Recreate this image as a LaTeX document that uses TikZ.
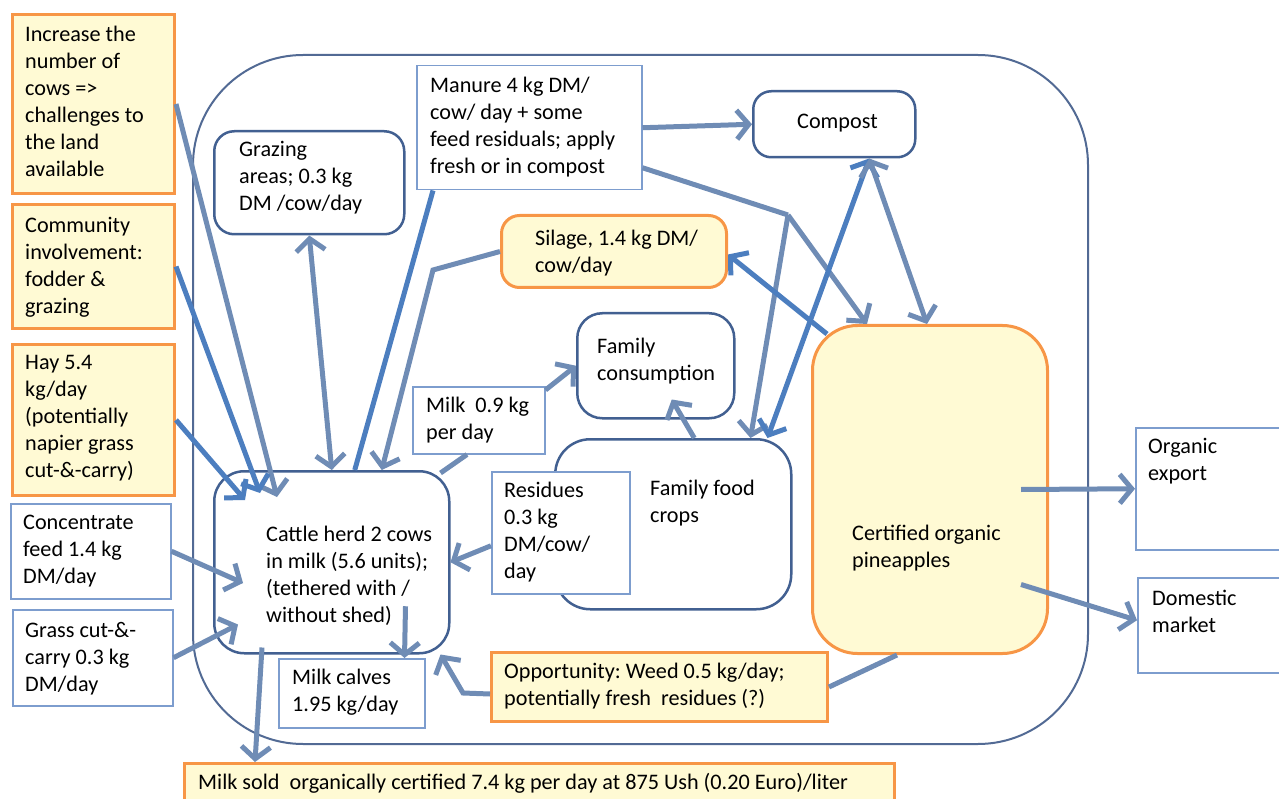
\documentclass[tikz,border=0pt]{standalone}
\usepackage{fontspec}
\setmainfont{Carlito}
\usepackage{tikz}
\usetikzlibrary{arrows.meta,positioning}
\frenchspacing

\definecolor{framecol}{RGB}{82,106,148}
\definecolor{roundcol}{RGB}{66,96,145}
\definecolor{rectcol}{RGB}{125,157,206}
\definecolor{orangecol}{RGB}{247,150,70}
\definecolor{notefill}{RGB}{255,250,212}
\definecolor{arrgray}{RGB}{111,140,181}
\definecolor{arrblue}{RGB}{76,126,191}

\begin{document}
\begin{tikzpicture}[
  x=1pt, y=-1pt,
  txt/.style={inner sep=0pt, anchor=west, align=left, font=\fontsize{22.2}{27}\selectfont},
  rbox/.style={draw=roundcol, line width=2.5pt, fill=white, rounded corners=#1, anchor=north west, inner sep=0pt},
  rbox/.default=20pt,
  sbox/.style={draw=rectcol, line width=1.5pt, fill=white, anchor=north west, inner sep=0pt},
  nbox/.style={draw=orangecol, line width=3pt, fill=notefill, anchor=north west, inner sep=0pt},
  ln/.style={draw=arrgray, line width=5pt},
  lnb/.style={ln, draw=arrblue},
  arr/.style={ln, -{Straight Barb[length=12pt,width=29pt]}},
  arrb/.style={arr, draw=arrblue},
  darr/.style={ln, {Straight Barb[length=12pt,width=29pt]}-{Straight Barb[length=12pt,width=29pt]}},
  darrb/.style={darr, draw=arrblue}
]
  \useasboundingbox (0,0) rectangle (1279,799);

  % farm boundary
  \draw[framecol, line width=2pt, rounded corners=110pt] (193,55) rectangle (1088,744);

  % inputs and ideas on the left
  \node[nbox, minimum width=162pt, minimum height=179pt] (inc) at (11,13) {};
  \node[txt] (inc-t) at (25,101) {Increase the\\number of\\cows =>\\challenges to\\the land\\available};
  \node[nbox, minimum width=162pt, minimum height=124pt] (comm) at (11,203) {};
  \node[txt] (comm-t) at (25,267) {Community\\involvement:\\fodder \&\\grazing};
  \node[nbox, minimum width=162pt, minimum height=151pt] (hay) at (11,343) {};
  \node[txt] (hay-t) at (25,418) {Hay 5.4\\kg/day\\(potentially\\napier grass\\cut-\&-carry)};
  \node[sbox, minimum width=160pt, minimum height=95pt] (conc) at (10,503) {};
  \node[txt] (conc-t) at (23,551) {Concentrate\\feed 1.4 kg\\DM/day};
  \node[sbox, minimum width=160pt, minimum height=96pt] (grass) at (12,609) {};
  \node[txt] (grass-t) at (25,659) {Grass cut-\&-\\carry 0.3 kg\\DM/day};

  % farm components
  \node[rbox=20pt, minimum width=190pt, minimum height=103pt] (graz) at (213,130) {};
  \node[txt] (graz-t) at (239,178) {Grazing\\areas; 0.3 kg\\DM /cow/day};
  \node[sbox, minimum width=225pt, minimum height=124pt] (manure) at (416,65) {};
  \node[txt] (manure-t) at (430,127) {Manure 4 kg DM/\\cow/ day + some\\feed residuals; apply\\fresh or in compost};
  \node[rbox=18pt, minimum width=162pt, minimum height=66pt] (compost) at (752,90) {};
  \node[txt] (compost-t) at (797,123) {Compost};
  \node[nbox, rounded corners=18pt, minimum width=225pt, minimum height=72pt] (silage) at (500,214) {};
  \node[txt] (silage-t) at (535,253) {Silage, 1.4 kg DM/\\cow/day};
  \node[rbox=25pt, minimum width=157pt, minimum height=105pt] (cons) at (576,312) {};
  \node[txt] (cons-t) at (597,361) {Family\\consumption};
  \node[sbox, minimum width=132pt, minimum height=67pt] (milk09) at (412,386) {};
  \node[txt] (milk09-t) at (426,420) {Milk\ \ 0.9 kg\\per day};
  \node[rbox=35pt, minimum width=236pt, minimum height=170pt] (food) at (554,438) {};
  \node[txt] (food-t) at (650,503) {Family food\\crops};
  \node[sbox, minimum width=138pt, minimum height=122pt] (resid) at (491,471) {};
  \node[txt] (resid-t) at (504,532) {Residues\\0.3 kg\\DM/cow/\\day};
  \node[rbox=30pt, minimum width=235pt, minimum height=182pt] (cattle) at (213,470) {};
  \node[txt] (cattle-t) at (266,576) {Cattle herd 2 cows\\in milk (5.6 units);\\(tethered with /\\without shed)};
  \node[nbox, rounded corners=45pt, minimum width=235pt, minimum height=328pt] (pine) at (811,324) {};
  \node[txt] (pine-t) at (852,548) {Certified organic\\pineapples};
  \node[sbox, minimum width=146pt, minimum height=69pt] (calves) at (278,658) {};
  \node[txt] (calves-t) at (292,692) {Milk calves\\1.95 kg/day};
  \node[nbox, minimum width=336pt, minimum height=69pt] (opp) at (490,651) {};
  \node[txt] (opp-t) at (504,686) {Opportunity: Weed 0.5 kg/day;\\potentially fresh\ \ residues (?)};

  % markets
  \node[sbox, minimum width=160pt, minimum height=122pt] (export) at (1135,427) {};
  \node[txt] (export-t) at (1148,461) {Organic\\export};
  \node[sbox, minimum width=160pt, minimum height=95pt] (dom) at (1137,577) {};
  \node[txt] (dom-t) at (1152,611) {Domestic\\market};
  \node[nbox, minimum width=710pt, minimum height=60pt] (sold) at (183,762) {};
  \node[txt] (sold-t) at (198,783) {Milk sold\ \ organically certified 7.4 kg per day at 875 Ush (0.20 Euro)/liter};

  \coordinate (silbend) at (433,270);
  \coordinate (mbranch) at (788,215);
  \coordinate (oppbend) at (463,693);

  % flows into the herd
  \draw[arr] (inc.east) -- ([xshift=64pt,yshift=-27pt]cattle.north west);
  \draw[arrb] (comm.east) -- ([xshift=47pt,yshift=-23pt]cattle.north west);
  \draw[arrb] (hay.east) -- ([xshift=32pt,yshift=-30pt]cattle.north west);
  \draw[arr] (conc.east) -- ([xshift=30pt,yshift=-113pt]cattle.north west);
  \draw[arr] (grass.east) -- ([xshift=25pt,yshift=30pt]cattle.south west);
  \draw[darr] (graz.south) -- (cattle.north);
  \draw[lnb] ([xshift=17pt]manure.south west) -- ([xshift=23pt]cattle.north);
  \draw[arr] (silage.west) -- (silbend) -- ([xshift=50pt]cattle.north);
  \draw[arr] ([yshift=-13pt]resid.west) -- (cattle.east);
  \draw[arr] ([yshift=-7pt]opp.west) -- (oppbend) -- ([xshift=-10pt]cattle.south east);

  % manure and compost
  \draw[arr] (manure.east) -- (compost.west);
  \draw[ln] ([yshift=-40pt]manure.east) -- (mbranch);
  \draw[arr] (mbranch) -- ([xshift=-42pt]food.north east);
  \draw[arr] (mbranch) -- ([xshift=56pt]pine.north west);
  \draw[darrb] ([xshift=35pt]compost.south) -- ([xshift=-25pt]food.north east);
  \draw[darr] ([xshift=35pt]compost.south) -- ([xshift=116pt]pine.north west);
  \draw[arrb] ([xshift=16pt,yshift=-10pt]pine.north west) -- ([yshift=-3pt]silage.east);
  \draw[ln] ([xshift=-33pt]pine.south) -- (opp.east);

  % outputs
  \draw[ln] ([xshift=-10pt,yshift=-3pt]cattle.north east) -- ([xshift=55pt]milk09.south west);
  \draw[arr] ([yshift=-4pt]milk09.north east) -- (cons.west);
  \draw[arr] ([xshift=21pt]food.north) -- ([xshift=16pt,yshift=20pt]cons.south);
  \draw[arr] ([xshift=-45pt,yshift=-44pt]cattle.east) -- ([xshift=-21pt]calves.north east);
  \draw[arr] ([xshift=49pt,yshift=7pt]cattle.south west) -- ([xshift=72pt]sold.north west);
  \draw[arr] ([xshift=-28pt]pine.east) -- (export.west);
  \draw[arr] ([xshift=-28pt,yshift=-95pt]pine.east) -- ([yshift=5pt]dom.west);
\end{tikzpicture}
\end{document}
